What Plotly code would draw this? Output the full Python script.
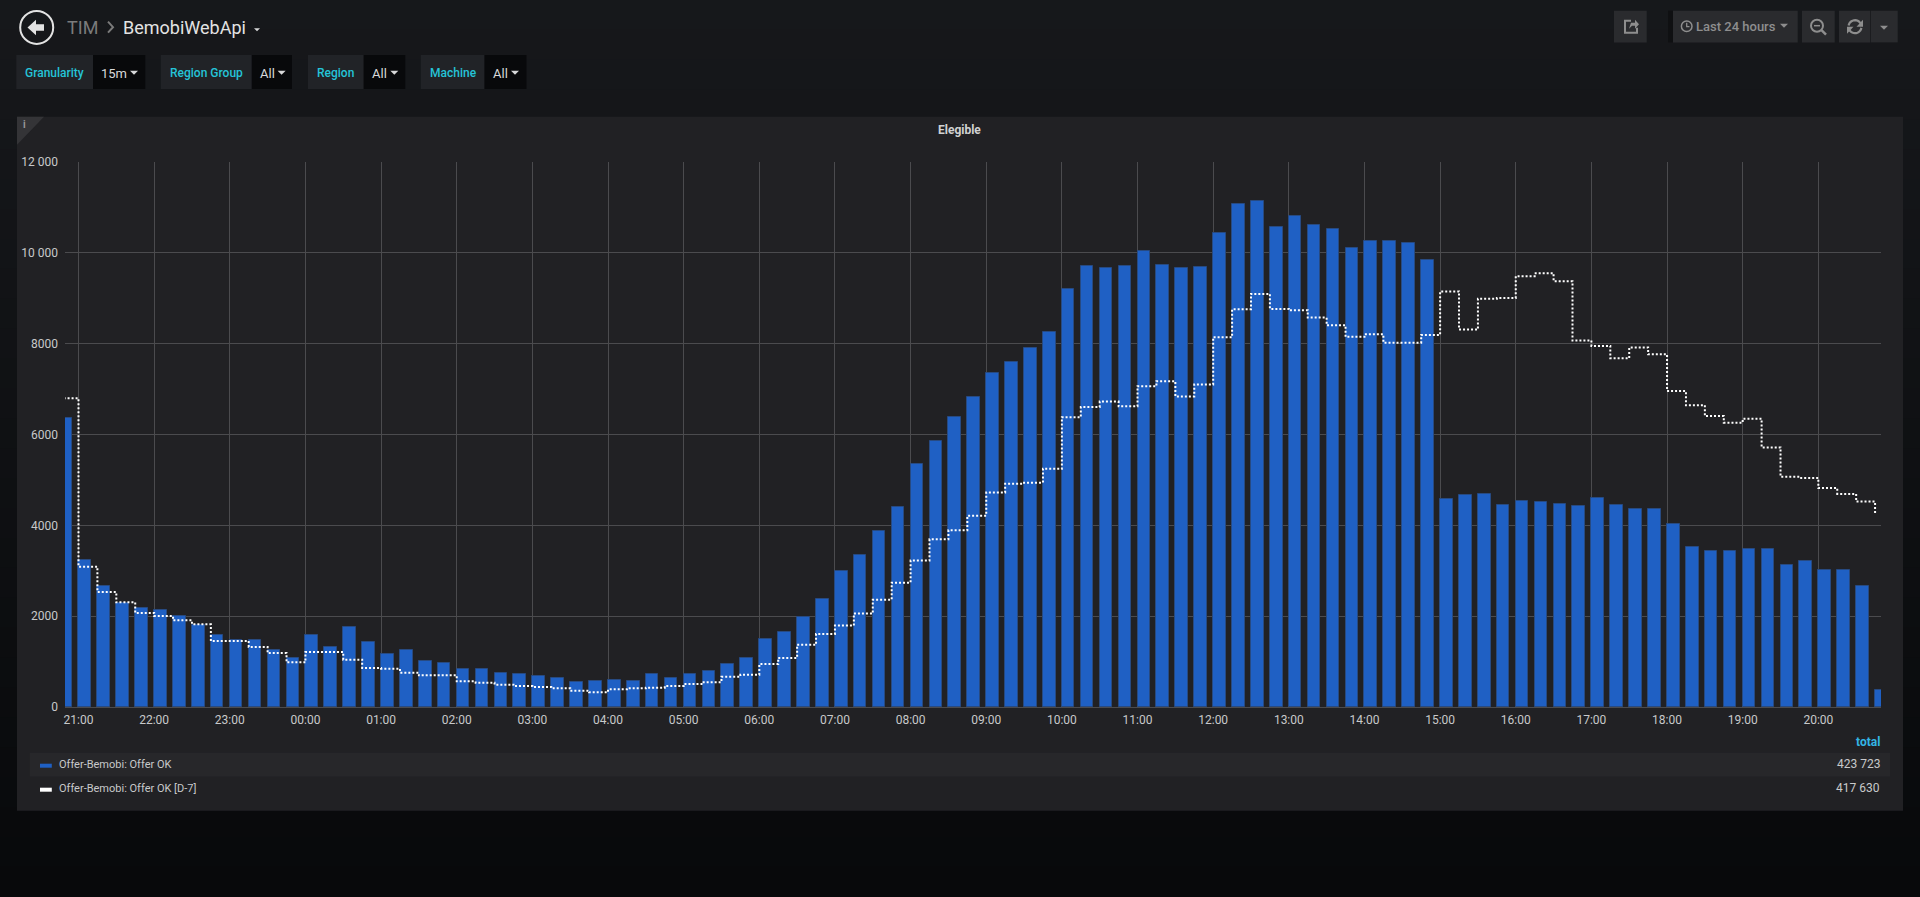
import math

import plotly.graph_objects as go
import pandas as pd

# Data (15 minute buckets, 20:45 -> 20:45 next day)
# ---------------------------------------------------------
offer_ok = [
    6370, 3230, 2660, 2280, 2170, 2126, 1994, 1800, 1575, 1480, 1465, 1260, 1084,
    1575, 1318, 1751, 1428, 1164, 1245, 1003, 973, 841, 841, 746, 724, 680, 628,
    555, 562, 584, 570, 718, 638, 718, 798, 942, 1071, 1495, 1647, 1991, 2376,
    3000, 3336, 3873, 4401, 5346, 5850, 6395, 6819, 7363, 7588, 7900, 8268, 9205,
    9717, 9677, 9701, 10030, 9741, 9661, 9685, 10430, 11070, 11150, 10558, 10806,
    10622, 10518, 10102, 10270, 10270, 10206, 9838, 4585, 4666, 4690, 4457, 4529,
    4513, 4465, 4433, 4594, 4457, 4369, 4369, 4025, 3513, 3433, 3425, 3473, 3481,
    3136, 3224, 3016, 3008, 2672, 374,
]
offer_ok_d7 = [
    6800, 3090, 2532, 2305, 2070, 2004, 1908, 1820, 1453, 1453, 1321, 1189, 983,
    1211, 1211, 1042, 859, 844, 756, 697, 697, 565, 536, 492, 462, 440, 411, 360,
    323, 389, 411, 424, 464, 504, 544, 664, 712, 945, 1081, 1369, 1609, 1793, 2057,
    2362, 2738, 3226, 3691, 3891, 4211, 4723, 4916, 4940, 5244, 6381, 6605, 6725,
    6621, 7061, 7173, 6837, 7101, 8142, 8758, 9095, 8766, 8734, 8574, 8406, 8150,
    8206, 8022, 8022, 8190, 9151, 8310, 8990, 9007, 9487, 9551, 9375, 8070, 7950,
    7678, 7918, 7766, 6957, 6645, 6405, 6261, 6349, 5716, 5068, 5044, 4820, 4692,
    4523, 4250,
]
times = pd.date_range("2019-03-11 20:45", periods=len(offer_ok), freq="15min")

y_ticks = [0, 2000, 4000, 6000, 8000, 10000, 12000]
y_labels = ["0", "2000", "4000", "6000", "8000", "10 000", "12 000"]

series_names = ["Offer-Bemobi: Offer OK", "Offer-Bemobi: Offer OK [D-7]"]
series_totals = ["423 723", "417 630"]

# Page geometry in pixels
# ---------------------------------------------------------
W, H = 1920, 897
L, R, T, B = 65, 1881, 162.3, 707.3

FONT = "Roboto"
CYAN = "#25c4d8"
TEXT = "#c8c9ca"
BTN = "#2a2b2e"


def px(x):
    return (x - L) / (R - L)


def py(y):
    return (B - y) / (B - T)


shapes = []
annotations = []


def rect(x0, y0, x1, y1, color):
    shapes.append(dict(type="rect", xref="paper", yref="paper", layer="below",
                       x0=px(x0), x1=px(x1), y0=py(y1), y1=py(y0),
                       fillcolor=color, line_width=0))


def path(points, color=None, line=None, width=1.5, close=True):
    d = "M" + " L".join(f"{px(a):.5f},{py(b):.5f}" for a, b in points) + (" Z" if close else "")
    shapes.append(dict(type="path", xref="paper", yref="paper", layer="below", path=d,
                       fillcolor=color if color else "rgba(0,0,0,0)",
                       line=dict(color=line if line else "rgba(0,0,0,0)", width=width if line else 0)))


def circle(cx, cy, r, color, width=1.5):
    shapes.append(dict(type="circle", xref="paper", yref="paper", layer="below",
                       x0=px(cx - r), x1=px(cx + r), y0=py(cy + r), y1=py(cy - r),
                       line=dict(color=color, width=width)))


def text(x, y, s, size=12, color=TEXT, anchor="left", weight=None):
    annotations.append(dict(xref="paper", yref="paper", x=px(x), y=py(y), text=s, showarrow=False,
                            xanchor=anchor, yanchor="middle", xshift=0, borderpad=0, borderwidth=0,
                            font=dict(family=FONT, size=size, color=color, weight=weight)))


def caret(x, y, s=4, color="#d8d9da"):
    path([(x - s, y - s / 2), (x + s, y - s / 2), (x, y + s / 2)], color=color)


def arc(cx, cy, r, a0, a1, color):
    # refresh icon half circle, angles in degrees
    pts = [(cx + r * math.cos(math.radians(a0 + (a1 - a0) * k / 12)),
            cy - r * math.sin(math.radians(a0 + (a1 - a0) * k / 12))) for k in range(13)]
    path(pts, line=color, width=2.2, close=False)


# Page background, dark gradient towards the bottom
steps = 30
for i in range(steps):
    c0 = (22, 24, 27)
    c1 = (8, 9, 11)
    f = i / (steps - 1)
    col = "rgb(%d,%d,%d)" % tuple(round(a + (b - a) * f) for a, b in zip(c0, c1))
    rect(0, H * i / steps, W, H * (i + 1) / steps + 1, col)

# Panel
rect(17, 117, 1903, 811, "#212124")
path([(17, 117), (44, 117), (17, 145)], color="#343437")
text(24.5, 125, "i", size=10, color="#9a9a9a", anchor="center", weight="bold")
text(959, 130.5, "Elegible", size=12, color="#d0d1d2", anchor="center", weight="bold")

# Header
circle(36.7, 27.7, 16.5, "#e3e3e3", width=2)
path([(27.5, 27.7), (36, 20), (36, 24.5), (44, 24.5), (44, 31), (36, 31), (36, 35.5)], color="#e3e3e3")
text(67, 27.5, "TIM", size=18, color="#7b7b7b")
path([(108, 22), (113, 27.5), (108, 33)], line="#7b7b7b", width=2, close=False)
text(123, 27.5, "BemobiWebApi", size=18, color="#e3e3e3")
caret(257, 30, s=3)

# Template variable blocks: left, split, right, label, value
blocks = [
    (16.3, 93, 145.3, "Granularity", "15m", 101, 134),
    (160.8, 251.8, 292, "Region Group", "All", 259.6, 281.6),
    (308, 363.7, 405.3, "Region", "All", 371.8, 394.3),
    (420.8, 484.5, 526.5, "Machine", "All", 493, 515),
]
for x0, xm, x1, label, value, vx, cx in blocks:
    rect(x0, 55.3, xm, 89.3, "#212327")
    rect(xm, 55.3, x1, 89.3, "#08090b")
    text(x0 + 8.7, 73.5, label, size=12, color=CYAN, weight=500)
    text(vx, 74, value, size=13, color="#d8d9da")
    caret(cx, 73, s=4)

# Toolbar, top right
rect(1668, 11, 1673, 42.7, "#0f1012")
rect(1614, 11, 1646.7, 42.7, BTN)
rect(1673, 11, 1797.7, 42.7, BTN)
rect(1802, 11, 1834.7, 42.7, BTN)
rect(1839, 11, 1870.3, 42.7, BTN)
rect(1871, 11, 1897.7, 42.7, BTN)
ICON = "#8e8e8e"
path([(1631, 21), (1625, 21), (1625, 33), (1637, 33), (1637, 28)], line=ICON, width=2, close=False)
path([(1629, 29), (1631, 23), (1635, 23), (1635, 20), (1639, 24.5), (1635, 29), (1635, 26), (1632, 26)], color=ICON)
circle(1686.7, 26.5, 5.3, ICON)
path([(1686.7, 23), (1686.7, 27), (1689.5, 27)], line=ICON, width=1.3, close=False)
text(1696, 26.5, "Last 24 hours", size=13, color=ICON, weight=500)
caret(1784, 26, s=4, color=ICON)
circle(1817, 26, 6, ICON, width=2)
path([(1814, 26), (1820, 26)], line=ICON, width=1.5, close=False)
path([(1821.5, 30.5), (1826, 35)], line=ICON, width=2.5, close=False)
arc(1855, 27, 6.5, 30, 170, ICON)
arc(1855, 27, 6.5, 210, 350, ICON)
path([(1863, 20), (1863, 27), (1856.5, 27)], color=ICON)
path([(1847, 34), (1847, 27), (1853.5, 27)], color=ICON)
caret(1884, 28, s=4, color=ICON)

# Legend table
rect(29.8, 753, 1890, 776.7, "#27272a")
colors = ["#1F60C4", "#ffffff"]
for i in range(len(series_names)):
    yy = 764.5 + i * 24
    rect(40, yy - 0.5, 51.8, yy + 3.5, colors[i])
    text(58.8, yy, series_names[i], size=11, color=TEXT)
    text(1880, yy, series_totals[i], size=12, color=TEXT, anchor="right")
text(1880, 742, "total", size=12, color="#33b5e5", anchor="right", weight="bold")

# Chart traces
# ---------------------------------------------------------
fig = go.Figure()

fig.add_trace(go.Bar(
    x=times, y=offer_ok, name=series_names[0],
    width=600000, offset=0,
    marker=dict(color="#1F60C4", line=dict(color="#274a82", width=1)),
))
fig.add_trace(go.Scatter(
    x=times, y=offer_ok_d7, name=series_names[1],
    mode="lines",
    line=dict(color="#ffffff", width=2, shape="hv", dash="2px,2px"),
))

GRID = "#4b4b4e"
fig.update_layout(
    width=W, height=H,
    margin=dict(l=L, r=W - R, t=T, b=H - B, pad=0),
    paper_bgcolor="#0f1012",
    plot_bgcolor="rgba(0,0,0,0)",
    showlegend=False,
    bargap=0,
    font=dict(family=FONT, size=12, color=TEXT),
    xaxis=dict(
        type="date",
        range=["2019-03-11 20:49:18", "2019-03-12 20:49:42"],
        tick0="2019-03-11 21:00", dtick=3600000, tickformat="%H:%M",
        showgrid=True, gridcolor=GRID, gridwidth=1,
        showline=False, zeroline=False, ticks="", ticklabelstandoff=4,
    ),
    yaxis=dict(
        range=[0, 12000], tickmode="array", tickvals=y_ticks, ticktext=y_labels,
        showgrid=True, gridcolor=GRID, gridwidth=1,
        zeroline=True, zerolinecolor=GRID, zerolinewidth=1,
        showline=False, ticks="", ticklabelstandoff=6,
    ),
    shapes=shapes,
    annotations=annotations,
)

fig.write_html("out.html", config=dict(displayModeBar=False),
               post_script="document.body.style.margin='0';document.body.style.overflow='hidden';")
